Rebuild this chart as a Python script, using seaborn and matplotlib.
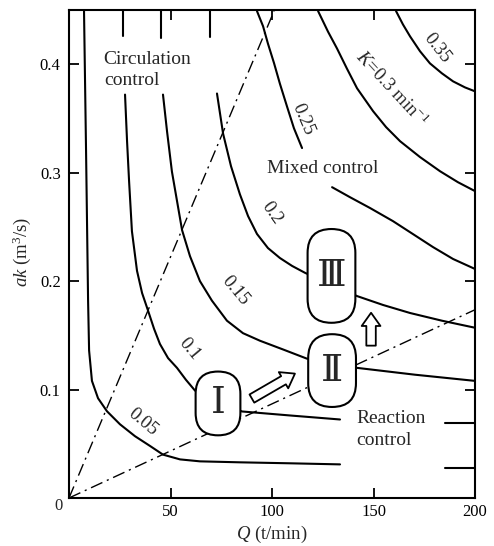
import numpy as np
import pandas as pd
import matplotlib
matplotlib.use("Agg")
import matplotlib.pyplot as plt
import seaborn as sns
from matplotlib.patches import FancyBboxPatch, FancyArrowPatch
from matplotlib.offsetbox import DrawingArea, AnnotationBbox

sns.set_style("ticks")
plt.rcParams["font.family"] = ["Liberation Serif", "DejaVu Serif"]
plt.rcParams["mathtext.fontset"] = "custom"
plt.rcParams["mathtext.rm"] = "Liberation Serif"
plt.rcParams["mathtext.it"] = "Liberation Serif:italic"

# ---------------- data ----------------
x_ticks = [50, 100, 150, 200]
y_ticks = [0.1, 0.2, 0.3, 0.4]
x_tick_labels = ["50", "100", "150", "200"]
y_tick_labels = ["0.1", "0.2", "0.3", "0.4"]

# K = 0.05
k05_q = [7.4, 8.4, 9.4, 9.9, 11.3, 14.3, 18.7, 25.1, 32.5, 39.9, 46.3, 54.7, 64.5, 84.2, 108.9, 133.5]
k05_ak = [0.449, 0.320, 0.182, 0.136, 0.108, 0.092, 0.080, 0.068, 0.057, 0.048, 0.040, 0.0356, 0.0338, 0.0329, 0.032, 0.031]
k05_tail_q = [185.0, 200.0]
k05_tail_ak = [0.028, 0.028]

# K = 0.1
k10_top_q = [26.6, 26.6]
k10_top_ak = [0.449, 0.426]
k10_q = [27.6, 28.6, 29.6, 31.0, 33.5, 36.0, 38.9, 41.9, 44.8, 48.8, 53.2, 57.6, 62.1, 85.2, 108.9, 133.5]
k10_ak = [0.372, 0.329, 0.292, 0.246, 0.2095, 0.189, 0.173, 0.156, 0.142, 0.129, 0.120, 0.109, 0.099, 0.0798, 0.0761, 0.0724]
k10_tail_q = [185.2, 200.0]
k10_tail_ak = [0.0687, 0.0687]

# K = 0.15
k15_top_q = [45.3, 45.3]
k15_top_ak = [0.449, 0.424]
k15_q = [46.3, 48.3, 50.7, 53.2, 55.7, 59.6, 64.5, 70.4, 77.8, 85.7, 94.1, 105.4, 117.2, 141.9, 170.4, 200.0]
k15_ak = [0.372, 0.338, 0.301, 0.274, 0.247, 0.223, 0.200, 0.182, 0.1635, 0.152, 0.145, 0.137, 0.1285, 0.120, 0.1137, 0.108]

# K = 0.2
k20_top_q = [69.5, 69.5]
k20_top_ak = [0.449, 0.425]
k20_q = [72.9, 75.9, 79.8, 84.2, 88.2, 92.6, 98.0, 103.9, 109.9, 116.3, 141.9, 154.7, 168.0, 183.7, 200.0]
k20_ak = [0.373, 0.336, 0.306, 0.280, 0.260, 0.2435, 0.2305, 0.2213, 0.214, 0.2076, 0.1862, 0.178, 0.1706, 0.1635, 0.157]

# K = 0.25
k25_q = [92.6, 95.6, 98.0, 101.0, 103.9, 107.4, 110.8, 114.8]
k25_ak = [0.449, 0.435, 0.419, 0.401, 0.382, 0.361, 0.341, 0.3227]
k25_low_q = [129.6, 138.4, 148.3, 159.6, 169.5, 179.3, 189.2, 200.0]
k25_low_ak = [0.2866, 0.2774, 0.2674, 0.2553, 0.2433, 0.2314, 0.2204, 0.2112]

# K = 0.3
k30_q = [122.7, 127.6, 132.0, 136.9, 141.9, 149.8, 156.2, 163.1, 172.9, 182.8, 191.6, 200.0]
k30_ak = [0.449, 0.430, 0.4146, 0.396, 0.3778, 0.3567, 0.342, 0.329, 0.3144, 0.3013, 0.2912, 0.283]

# K = 0.35
k35_q = [161.1, 164.5, 168.0, 172.9, 177.8, 183.7, 189.2, 195.1, 200.0]
k35_ak = [0.449, 0.4367, 0.4257, 0.412, 0.4008, 0.3916, 0.3842, 0.3786, 0.375]

# boundary lines (dash-dot)
upper_q = [0.0, 101.0]
upper_ak = [0.0, 0.449]
lower_q = [0.0, 200.0]
lower_ak = [0.0, 0.1736]

# curve labels
k_labels = ["0.05", "0.1", "0.15", "0.2", "0.25", r"$K$=0.3 min$^{-1}$", "0.35"]
k_label_q = [36.5, 59.1, 81.8, 100.0, 115.3, 158.6, 181.3]
k_label_ak = [0.0696, 0.1377, 0.1912, 0.2626, 0.3493, 0.377, 0.4146]
k_label_rot = [-40, -50, -50, -55, -67, -47, -52]

# region labels
region_text = ["Circulation", "control", "Mixed control", "Reaction", "control"]
region_q = [16.7, 17.6, 97.5, 141.4, 141.4]
region_ak = [0.4045, 0.385, 0.304, 0.0733, 0.053]

# operating stages
stage_labels = ["\u2160", "\u2161", "\u2162"]
stage_q = [73.4, 129.6, 129.3]
stage_ak = [0.0872, 0.1175, 0.2048]
stage_w_px = [47, 50, 50]
stage_h_px = [66, 75, 96]

# arrows between stages
arrow_start_q = [90.1, 148.8]
arrow_start_ak = [0.0917, 0.1405]
arrow_end_q = [111.3, 148.8]
arrow_end_ak = [0.1147, 0.1708]

# ---------------- build tables ----------------
segments = [
    ("k05", k05_q, k05_ak), ("k05t", k05_tail_q, k05_tail_ak),
    ("k10top", k10_top_q, k10_top_ak), ("k10", k10_q, k10_ak), ("k10t", k10_tail_q, k10_tail_ak),
    ("k15top", k15_top_q, k15_top_ak), ("k15", k15_q, k15_ak),
    ("k20top", k20_top_q, k20_top_ak), ("k20", k20_q, k20_ak),
    ("k25", k25_q, k25_ak), ("k25low", k25_low_q, k25_low_ak),
    ("k30", k30_q, k30_ak), ("k35", k35_q, k35_ak),
]
rows = []
for name, qs, aks in segments:
    for i, (q, a) in enumerate(zip(qs, aks)):
        rows.append({"seg": name, "order": i, "Q": q, "ak": a})
curves = pd.DataFrame(rows)

brows = []
for name, qs, aks in [("upper", upper_q, upper_ak), ("lower", lower_q, lower_ak)]:
    for i, (q, a) in enumerate(zip(qs, aks)):
        brows.append({"seg": name, "order": i, "Q": q, "ak": a})
bounds = pd.DataFrame(brows)

# ---------------- figure ----------------
W, H = 494, 546
fig = plt.figure(figsize=(W / 100, H / 100), dpi=100)
ax = fig.add_axes([69 / W, 1 - 498 / H, 406 / W, 488 / H])

sns.lineplot(data=curves, x="Q", y="ak", units="seg", estimator=None, sort=False,
             color="black", lw=1.5, ax=ax, legend=False, zorder=2)
sns.lineplot(data=bounds, x="Q", y="ak", units="seg", estimator=None, sort=False,
             color="black", lw=1.0, ax=ax, legend=False, zorder=2,
             linestyle=(0, (9, 3.5, 1.5, 3.5)))

ax.set_xlim(0, 200)
ax.set_ylim(0, 0.45)
ax.set_xticks(x_ticks)
ax.set_xticklabels(x_tick_labels)
ax.set_yticks(y_ticks)
ax.set_yticklabels(y_tick_labels)
ax.tick_params(direction="in", top=True, right=True, length=7, width=1.3,
               labelsize=12, color="black", labelcolor="black")
ax.tick_params(axis="x", pad=4)
ax.tick_params(axis="y", pad=6)
for sp in ax.spines.values():
    sp.set_visible(True)
    sp.set_linewidth(1.5)
    sp.set_color("black")

ax.set_xlabel(r"$Q$ (t/min)", fontsize=13.5)
ax.set_ylabel(r"$ak$ (m$^3$/s)", fontsize=13.5)
ax.xaxis.set_label_coords(0.5, -0.054)
ax.yaxis.set_label_coords(-0.088, 0.505)

ax.text(-5.4, -0.0076, "0", fontsize=12, ha="center", va="center", clip_on=False)

# curve labels
for t, q, a, r in zip(k_labels, k_label_q, k_label_ak, k_label_rot):
    ax.text(q, a, t, fontsize=13.5, rotation=r, ha="center", va="center",
            rotation_mode="anchor", zorder=3)

# region labels
for t, q, a in zip(region_text, region_q, region_ak):
    ax.text(q, a, t, fontsize=14, ha="left", va="center", zorder=3)

# stage capsules
pt = 72 / 100
for lab, q, a, wpx, hpx in zip(stage_labels, stage_q, stage_ak, stage_w_px, stage_h_px):
    w, h = wpx * pt, hpx * pt
    da = DrawingArea(w, h, 0, 0)
    patch = FancyBboxPatch((0.8, 0.8), w - 1.6, h - 1.6,
                           boxstyle=f"round,pad=0,rounding_size={(w - 1.6) / 2}",
                           fc="white", ec="black", lw=1.5)
    da.add_artist(patch)
    ab = AnnotationBbox(da, (q, a), xycoords="data", frameon=False,
                        box_alignment=(0.5, 0.5), pad=0)
    ab.set_zorder(5)
    ax.add_artist(ab)
    ax.text(q, a, lab, fontsize=27, ha="center", va="center", zorder=6,
            family=["DejaVu Serif", "Noto Sans CJK JP"])

# hollow arrows
for q0, a0, q1, a1 in zip(arrow_start_q, arrow_start_ak, arrow_end_q, arrow_end_ak):
    arr = FancyArrowPatch((q0, a0), (q1, a1),
                          arrowstyle="simple,head_length=0.95,head_width=1.35,tail_width=0.68",
                          mutation_scale=10, fc="white", ec="black", lw=1.3,
                          shrinkA=0, shrinkB=0, zorder=6)
    ax.add_patch(arr)

fig.savefig("out.png", dpi=100, facecolor="white")
